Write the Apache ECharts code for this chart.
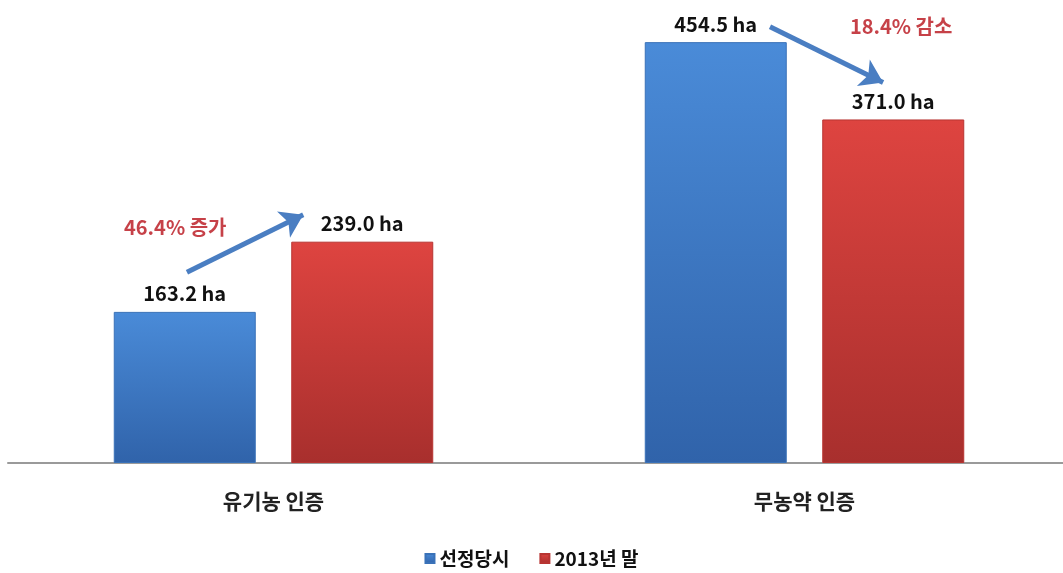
<!DOCTYPE html>
<html><head><meta charset="utf-8">
<script src="https://cdn.jsdelivr.net/npm/echarts@6/dist/echarts.min.js"></script>
<style>html,body{margin:0;padding:0;background:#fff}#c{width:1063px;height:573px}</style>
</head><body><div id="c"></div>
<script>
var categories = ['유기농 인증', '무농약 인증'];
var seriesNames = ['선정당시', '2013년 말'];
var before = [163.2, 454.5];
var after2013 = [239.0, 371.0];
// annotation arrows: [x (category position), value] tail -> head
var arrowUp = [[-0.163, 206], [0.056, 268]];
var arrowDown = [[0.935, 471], [1.148, 411]];
var notes = [{text: '46.4% 증가', pos: [-0.185, 254]}, {text: '18.4% 감소', pos: [1.182, 471]}];

var font = '"Malgun Gothic","Noto Sans CJK KR",sans-serif';
function grad(c1, c2) {
  return new echarts.graphic.LinearGradient(0, 0, 0, 1, [{offset: 0, color: c1}, {offset: 1, color: c2}]);
}
var blue = grad('#4a8bd8', '#3063aa');
var red = grad('#de4440', '#a82f2d');
var labelStyle = {show: true, position: 'top', distance: 8, formatter: function (p) { return p.value.toFixed(1) + ' ha'; },
  color: '#111', fontWeight: 'bold', fontSize: 20, fontFamily: font};

var chart = echarts.init(document.getElementById('c'));
chart.setOption({
  animation: false,
  grid: {left: 8, width: 1062, top: 0, bottom: 110, containLabel: false, outerBoundsMode: 'none'},
  legend: {bottom: 0, left: 'center', data: seriesNames, itemWidth: 9, itemHeight: 9, icon: 'rect', itemGap: 30,
    textStyle: {fontSize: 19, fontWeight: 'bold', color: '#111', fontFamily: font}},
  xAxis: [{
    type: 'category', data: categories,
    axisLine: {lineStyle: {color: '#9a9a9a', width: 2}}, axisTick: {show: false},
    axisLabel: {margin: 28, fontSize: 21, fontWeight: 'bold', color: '#222', fontFamily: font}
  }, {
    type: 'value', min: -0.5, max: 1.5, show: false
  }],
  yAxis: [{type: 'value', min: 0, max: 500, show: false, splitLine: {show: false}}],
  series: [
    {name: seriesNames[0], type: 'bar', data: before, barWidth: 142, barGap: '25%',
      itemStyle: {color: blue, borderColor: '#3a72b8', borderWidth: 1}, label: labelStyle},
    {name: seriesNames[1], type: 'bar', data: after2013, barWidth: 142, barGap: '25%',
      itemStyle: {color: red, borderColor: '#b83532', borderWidth: 1}, label: labelStyle},
    {name: 'notes', type: 'scatter', xAxisIndex: 1, symbolSize: 0, silent: true,
      data: notes.map(function (n) { return {value: n.pos, label: {formatter: n.text}}; }),
      label: {show: true, position: 'inside', color: '#b8121a', fontWeight: 'bold', fontSize: 20, fontFamily: font},
      markLine: {silent: true, symbol: ['none', 'arrow'], symbolSize: 22, label: {show: false},
        lineStyle: {color: '#4a7ec2', width: 5, type: 'solid'},
        data: [
          [{coord: arrowUp[0]}, {coord: arrowUp[1]}],
          [{coord: arrowDown[0]}, {coord: arrowDown[1]}]
        ]}
    }
  ]
});
</script></body></html>
